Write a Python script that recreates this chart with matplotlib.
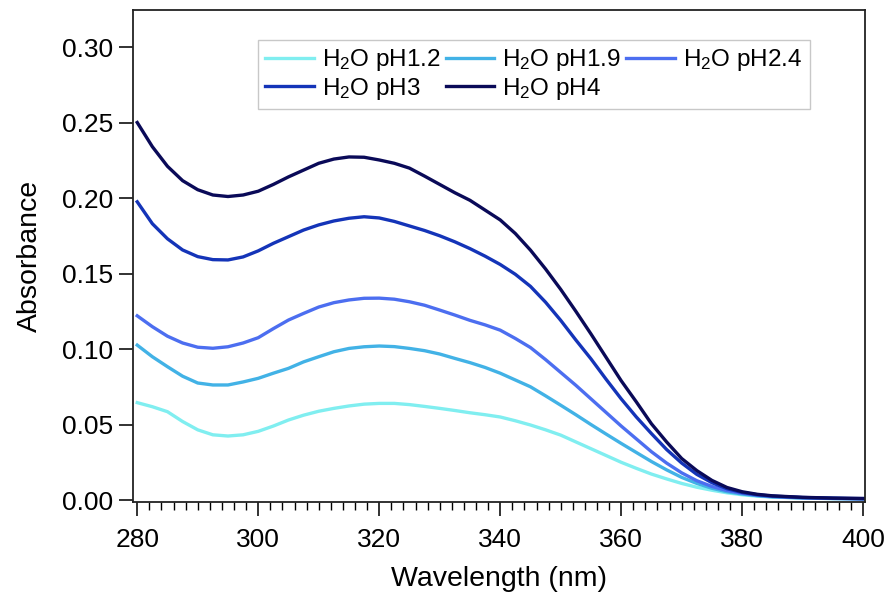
import matplotlib
matplotlib.use('Agg')
import matplotlib.pyplot as plt
from matplotlib.ticker import MultipleLocator, FormatStrFormatter

plt.rcParams['font.family'] = ['Liberation Sans', 'DejaVu Sans']
plt.rcParams['mathtext.fontset'] = 'custom'
plt.rcParams['mathtext.rm'] = 'Liberation Sans'

# wavelength (nm)
wavelength = [280, 282.5, 285, 287.5, 290, 292.5, 295, 297.5, 300, 302.5,
              305, 307.5, 310, 312.5, 315, 317.5, 320, 322.5, 325, 327.5,
              330, 332.5, 335, 337.5, 340, 342.5, 345, 347.5, 350, 352.5,
              355, 357.5, 360, 362.5, 365, 367.5, 370, 372.5, 375, 377.5,
              380, 382.5, 385, 390, 395, 400]

# absorbance
abs_ph12 = [0.0645, 0.0618, 0.0585, 0.0520, 0.0465, 0.0432, 0.0424, 0.0432, 0.0455, 0.0490,
            0.0530, 0.0562, 0.0588, 0.0607, 0.0623, 0.0635, 0.0640, 0.0640, 0.0632, 0.0620,
            0.0607, 0.0593, 0.0578, 0.0565, 0.0550, 0.0525, 0.0497, 0.0465, 0.0430, 0.0385,
            0.0340, 0.0295, 0.0250, 0.0210, 0.0172, 0.0140, 0.0110, 0.0085, 0.0065, 0.0048,
            0.0035, 0.0026, 0.0020, 0.0013, 0.0010, 0.0008]
abs_ph19 = [0.1026, 0.0949, 0.0883, 0.0820, 0.0775, 0.0762, 0.0762, 0.0782, 0.0806, 0.0840,
            0.0872, 0.0915, 0.0949, 0.0982, 0.1004, 0.1015, 0.1020, 0.1016, 0.1004, 0.0989,
            0.0967, 0.0938, 0.0910, 0.0878, 0.0840, 0.0795, 0.0750, 0.0690, 0.0628, 0.0565,
            0.0500, 0.0437, 0.0375, 0.0315, 0.0255, 0.0200, 0.0150, 0.0110, 0.0078, 0.0055,
            0.0040, 0.0029, 0.0021, 0.0014, 0.0010, 0.0008]
abs_ph24 = [0.1220, 0.1148, 0.1085, 0.1040, 0.1012, 0.1005, 0.1015, 0.1040, 0.1075, 0.1135,
            0.1192, 0.1236, 0.1278, 0.1307, 0.1325, 0.1336, 0.1337, 0.1330, 0.1313, 0.1290,
            0.1258, 0.1225, 0.1190, 0.1160, 0.1125, 0.1070, 0.1010, 0.0930, 0.0845, 0.0760,
            0.0670, 0.0580, 0.0490, 0.0405, 0.0320, 0.0245, 0.0180, 0.0128, 0.0090, 0.0063,
            0.0045, 0.0032, 0.0024, 0.0015, 0.0011, 0.0008]
abs_ph3 = [0.1975, 0.1830, 0.1730, 0.1656, 0.1612, 0.1592, 0.1590, 0.1610, 0.1650, 0.1700,
           0.1744, 0.1788, 0.1822, 0.1848, 0.1866, 0.1876, 0.1868, 0.1845, 0.1815, 0.1785,
           0.1750, 0.1710, 0.1665, 0.1615, 0.1560, 0.1495, 0.1415, 0.1310, 0.1190, 0.1060,
           0.0935, 0.0800, 0.0670, 0.0550, 0.0440, 0.0335, 0.0245, 0.0170, 0.0115, 0.0075,
           0.0050, 0.0035, 0.0026, 0.0017, 0.0012, 0.0010]
abs_ph4 = [0.2500, 0.2340, 0.2210, 0.2115, 0.2055, 0.2020, 0.2010, 0.2020, 0.2045, 0.2090,
           0.2140, 0.2185, 0.2230, 0.2258, 0.2272, 0.2270, 0.2252, 0.2230, 0.2198, 0.2145,
           0.2090, 0.2035, 0.1985, 0.1920, 0.1855, 0.1765, 0.1655, 0.1530, 0.1395, 0.1250,
           0.1100, 0.0945, 0.0790, 0.0650, 0.0505, 0.0385, 0.0275, 0.0195, 0.0130, 0.0083,
           0.0055, 0.0038, 0.0028, 0.0018, 0.0013, 0.0010]

labels = [r'$\mathregular{H_2O}$ pH1.2', r'$\mathregular{H_2O}$ pH1.9',
          r'$\mathregular{H_2O}$ pH2.4', r'$\mathregular{H_2O}$ pH3',
          r'$\mathregular{H_2O}$ pH4']
series = [abs_ph12, abs_ph19, abs_ph24, abs_ph3, abs_ph4]
colors = ['#80eef0', '#42b2e6', '#4c6ef0', '#1434b8', '#0a0a58']

fig = plt.figure(figsize=(8.89, 5.96), dpi=100)
ax = fig.add_axes([0.1496, 0.1577, 0.8234, 0.8255])

lines = []
for y, c, lab in zip(series, colors, labels):
    ln, = ax.plot(wavelength, y, color=c, lw=2.4, label=lab)
    lines.append(ln)

ax.set_xlim(279.3, 400.3)
ax.set_ylim(-0.0013, 0.3245)
ax.xaxis.set_major_locator(MultipleLocator(20))
ax.xaxis.set_minor_locator(MultipleLocator(2))
ax.yaxis.set_major_locator(MultipleLocator(0.05))
ax.yaxis.set_major_formatter(FormatStrFormatter('%.2f'))
ax.tick_params(axis='both', which='major', direction='out', length=10, width=1.3,
               labelsize=19, colors='#222222', labelcolor='black', pad=4)
ax.tick_params(axis='x', which='major', pad=9)
ax.tick_params(axis='x', which='minor', direction='out', length=6, width=1.0)
for s in ax.spines.values():
    s.set_linewidth(1.3)
    s.set_color('#222222')

ax.set_xlabel('Wavelength (nm)', fontsize=20.5, labelpad=10)
ax.set_ylabel('Absorbance', fontsize=20.5, labelpad=14)

# legend filled row by row, as in the original
order = [0, 3, 1, 4, 2]
leg = ax.legend([lines[i] for i in order], [labels[i] for i in order],
                loc='upper left', bbox_to_anchor=(0.171, 0.939), ncol=3,
                fontsize=17.5, frameon=True, fancybox=False, handlelength=2.0,
                handletextpad=0.33, columnspacing=0.2, borderpad=0.3,
                labelspacing=0.1, borderaxespad=0)
leg.get_frame().set_edgecolor('#bbbbbb')
leg.get_frame().set_linewidth(1.0)

fig.savefig('out.png', dpi=100)
